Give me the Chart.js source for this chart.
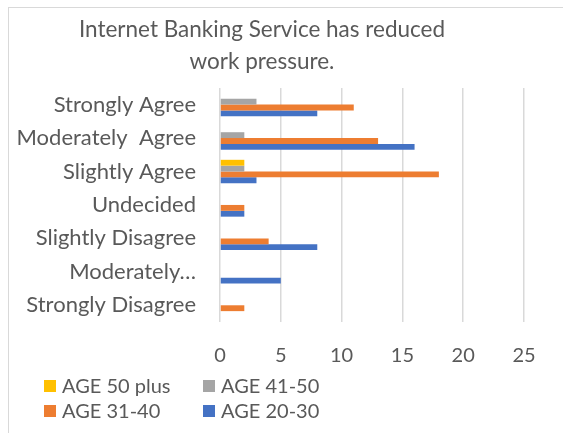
<!DOCTYPE html>
<html>
<head>
<meta charset="utf-8">
<script src="https://cdn.jsdelivr.net/npm/chart.js@4"></script>
<style>
  html, body { margin: 0; padding: 0; background: #fff; }
  canvas { display: block; }
</style>
</head>
<body>
<canvas id="chart" width="563" height="433"></canvas>
<script>
const categories = ['Strongly Agree', 'Moderately  Agree', 'Slightly Agree', 'Undecided',
  'Slightly Disagree', 'Moderately\u2026', 'Strongly Disagree'];
const age50plus = [0, 0, 2, 0, 0, 0, 0];
const age41_50 = [3, 2, 2, 0, 0, 0, 0];
const age31_40 = [11, 13, 18, 2, 4, 0, 2];
const age20_30 = [8, 16, 3, 2, 8, 5, 0];
const xTicks = [0, 5, 10, 15, 20, 25];

const FONT = 'Lato, "Noto Sans", sans-serif';
const TEXT = '#595959';

// outer frame + two-column legend under the axis
const framePlugin = {
  id: 'frame',
  beforeDraw(chart) {
    const c = chart.ctx;
    c.save();
    c.strokeStyle = '#d9d9d9';
    c.lineWidth = 1;
    c.strokeRect(8.5, 7.5, 700, 600);
    c.restore();
  },
  afterDraw(chart) {
    const c = chart.ctx;
    c.save();
    c.font = '20px ' + FONT;
    c.textBaseline = 'middle';
    const cols = [44, 203];
    const rows = [386, 411];
    chart.data.datasets.forEach((ds, i) => {
      const x = cols[i % 2], y = rows[Math.floor(i / 2)];
      c.fillStyle = ds.backgroundColor;
      c.fillRect(x, y - 6, 12, 12);
      c.fillStyle = TEXT;
      c.fillText(ds.label, x + 18, y + 1);
    });
    c.restore();
  }
};

new Chart(document.getElementById('chart'), {
  type: 'bar',
  data: {
    labels: categories,
    datasets: [
      { label: 'AGE 50 plus', data: age50plus, backgroundColor: '#FFC000' },
      { label: 'AGE 41-50', data: age41_50, backgroundColor: '#A5A5A5' },
      { label: 'AGE 31-40', data: age31_40, backgroundColor: '#ED7D31' },
      { label: 'AGE 20-30', data: age20_30, backgroundColor: '#4472C4' }
    ]
  },
  options: {
    indexAxis: 'y',
    responsive: false,
    animation: false,
    devicePixelRatio: 1,
    categoryPercentage: 0.7,
    barPercentage: 1,
    layout: { padding: { left: 0, right: 39, top: 0, bottom: 60 } },
    plugins: {
      legend: { display: false },
      tooltip: { enabled: false },
      title: {
        display: true,
        text: ['Internet Banking Service has reduced', 'work pressure.'],
        color: TEXT,
        font: { family: FONT, size: 22.5, weight: 'normal', lineHeight: 1.42 },
        padding: { top: 14, bottom: 10 }
      }
    },
    scales: {
      x: {
        min: 0,
        max: 25,
        afterBuildTicks(scale) { scale.ticks = xTicks.map(v => ({ value: v })); },
        afterFit(scale) { scale.height = 51; },
        grid: { color: '#d9d9d9', lineWidth: 1.5, drawTicks: false },
        border: { display: false },
        ticks: { color: TEXT, padding: 22, font: { family: FONT, size: 20 } }
      },
      y: {
        afterFit(scale) { scale.width = 220; },
        grid: { display: false, drawTicks: false },
        border: { display: false },
        ticks: { color: TEXT, padding: 24, font: { family: FONT, size: 22 } }
      }
    }
  },
  plugins: [framePlugin]
});
</script>
</body>
</html>
